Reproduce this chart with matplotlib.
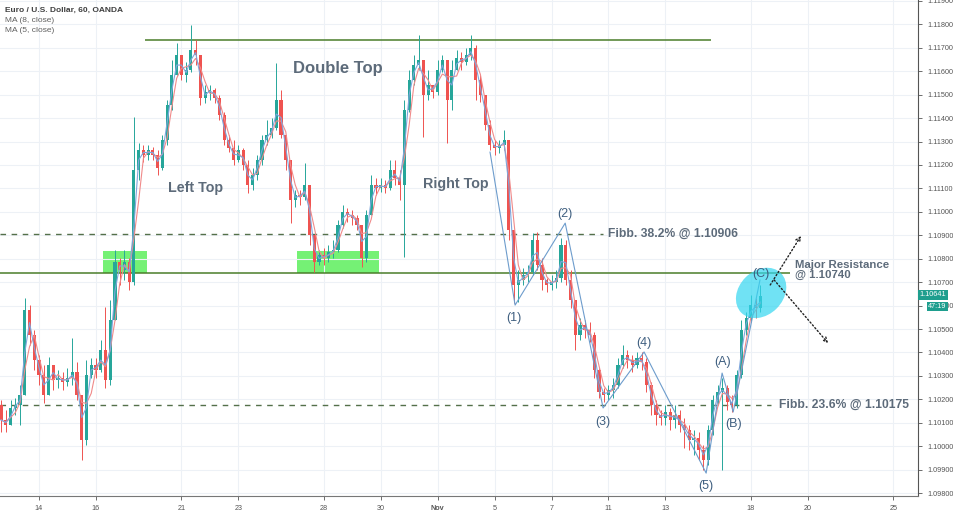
import numpy as np
import pandas as pd
import matplotlib
matplotlib.use("Agg")
import matplotlib.pyplot as plt
import matplotlib.patches as mpatches
import matplotlib.transforms as mtransforms

plt.rcParams["font.family"] = ["Liberation Sans", "DejaVu Sans"]

# EUR/USD, resampled to 4-hour bars (6 per trading day).
# first bar sits 8 bars before Mon 14 Oct 00:00
BARS_PER_DAY = 6
FIRST_BAR = -8
first_open = 1.10176
closes = [
    1.10112, 1.10090, 1.10163, 1.10176, 1.10218, 1.10581, 1.10474, 1.10368,
    1.10304, 1.10218, 1.10346, 1.10282, 1.10291, 1.10274,
    1.10291, 1.10316, 1.10218, 1.10026, 1.10304, 1.10346,
    1.10325, 1.10410, 1.10282, 1.10538, 1.10786, 1.10752,
    1.10786, 1.10701, 1.11179, 1.11264, 1.11243, 1.11264,
    1.11243, 1.11187, 1.11307, 1.11456, 1.11584, 1.11669,
    1.11584, 1.11605, 1.11691, 1.11669, 1.11486, 1.11512,
    1.11520, 1.11486, 1.11413, 1.11307, 1.11272, 1.11221,
    1.11264, 1.11200, 1.11115, 1.11157, 1.11221, 1.11307,
    1.11328, 1.11358, 1.11477, 1.11328, 1.11221, 1.11051,
    1.11072, 1.11063, 1.11115, 1.10901, 1.10786, 1.10816,
    1.10803, 1.10829, 1.10837, 1.10944, 1.10999, 1.10987,
    1.10974, 1.10944, 1.10803, 1.10987, 1.11115, 1.11102,
    1.11115, 1.11102, 1.11179, 1.11144, 1.11115, 1.11435,
    1.11563, 1.11627, 1.11648, 1.11499, 1.11541, 1.11512,
    1.11605, 1.11648, 1.11477, 1.11605, 1.11657, 1.11640,
    1.11669, 1.11699, 1.11563, 1.11499, 1.11371, 1.11285,
    1.11272, 1.11285, 1.11307, 1.10922, 1.10688, 1.10709,
    1.10730, 1.10743, 1.10880, 1.10773, 1.10709, 1.10688,
    1.10701, 1.10718, 1.10858, 1.10709, 1.10624, 1.10474,
    1.10517, 1.10496, 1.10474, 1.10325, 1.10231, 1.10218,
    1.10240, 1.10261, 1.10346, 1.10389, 1.10368, 1.10346,
    1.10376, 1.10359, 1.10261, 1.10176, 1.10133, 1.10120,
    1.10146, 1.10112, 1.10133, 1.10090, 1.10069, 1.10026,
    1.10035, 1.09984, 1.09941, 1.10069, 1.10197, 1.10231,
    1.10248, 1.10188, 1.10176, 1.10304, 1.10496, 1.10547,
    1.10602, 1.10590, 1.10641,
]
highs = [
    1.10197, 1.10154, 1.10197, 1.10205, 1.10261, 1.10632, 1.10602, 1.10496,
    1.10389, 1.10346, 1.10380, 1.10325, 1.10325, 1.10316,
    1.10334, 1.10462, 1.10359, 1.10218, 1.10368, 1.10376,
    1.10376, 1.10453, 1.10594, 1.10624, 1.10837, 1.10803,
    1.10837, 1.10803, 1.11405, 1.11294, 1.11285, 1.11285,
    1.11277, 1.11264, 1.11328, 1.11477, 1.11648, 1.11721,
    1.11648, 1.11640, 1.11797, 1.11733, 1.11669, 1.11541,
    1.11541, 1.11529, 1.11499, 1.11426, 1.11328, 1.11307,
    1.11285, 1.11272, 1.11221, 1.11187, 1.11243, 1.11328,
    1.11392, 1.11401, 1.11635, 1.11520, 1.11328, 1.11221,
    1.11093, 1.11093, 1.11208, 1.11115, 1.10901, 1.10837,
    1.10846, 1.10858, 1.10880, 1.10965, 1.11029, 1.11016,
    1.11008, 1.10987, 1.10944, 1.11008, 1.11157, 1.11144,
    1.11144, 1.11136, 1.11221, 1.11221, 1.11179, 1.11477,
    1.11605, 1.11669, 1.11755, 1.11648, 1.11605, 1.11541,
    1.11648, 1.11669, 1.11648, 1.11648, 1.11691, 1.11682,
    1.11699, 1.11755, 1.11712, 1.11584, 1.11499, 1.11392,
    1.11307, 1.11307, 1.11349, 1.11307, 1.10922, 1.10752,
    1.10760, 1.10773, 1.10910, 1.10914, 1.10803, 1.10718,
    1.10730, 1.10752, 1.10888, 1.10880, 1.10752, 1.10624,
    1.10547, 1.10538, 1.10530, 1.10487, 1.10334, 1.10248,
    1.10261, 1.10291, 1.10376, 1.10432, 1.10410, 1.10389,
    1.10402, 1.10402, 1.10376, 1.10274, 1.10197, 1.10154,
    1.10176, 1.10163, 1.10176, 1.10154, 1.10120, 1.10090,
    1.10069, 1.10060, 1.10005, 1.10090, 1.10218, 1.10261,
    1.10291, 1.10261, 1.10218, 1.10325, 1.10538, 1.10573,
    1.10645, 1.10632, 1.10688,
]
lows = [
    1.10060, 1.10060, 1.10090, 1.10133, 1.10090, 1.10240, 1.10432, 1.10325,
    1.10261, 1.10184, 1.10240, 1.10240, 1.10248, 1.10240,
    1.10257, 1.10261, 1.10197, 1.09941, 1.10005, 1.10291,
    1.10291, 1.10316, 1.10248, 1.10261, 1.10581, 1.10688,
    1.10709, 1.10666, 1.10688, 1.11136, 1.11213, 1.11221,
    1.11221, 1.11157, 1.11179, 1.11285, 1.11435, 1.11584,
    1.11563, 1.11554, 1.11597, 1.11627, 1.11456, 1.11465,
    1.11477, 1.11465, 1.11392, 1.11285, 1.11255, 1.11200,
    1.11213, 1.11179, 1.11080, 1.11093, 1.11136, 1.11200,
    1.11285, 1.11315, 1.11349, 1.11315, 1.11179, 1.10952,
    1.11021, 1.11029, 1.11051, 1.10858, 1.10743, 1.10773,
    1.10773, 1.10786, 1.10803, 1.10829, 1.10931, 1.10957,
    1.10944, 1.10922, 1.10765, 1.10786, 1.10987, 1.11072,
    1.11085, 1.11080, 1.11093, 1.11115, 1.11051, 1.10807,
    1.11426, 1.11541, 1.11605, 1.11319, 1.11477, 1.11486,
    1.11499, 1.11597, 1.11294, 1.11435, 1.11614, 1.11605,
    1.11627, 1.11648, 1.11477, 1.11469, 1.11349, 1.11264,
    1.11243, 1.11251, 1.11264, 1.10880, 1.10611, 1.10615,
    1.10688, 1.10701, 1.10730, 1.10752, 1.10666, 1.10658,
    1.10666, 1.10675, 1.10701, 1.10688, 1.10590, 1.10410,
    1.10453, 1.10462, 1.10445, 1.10291, 1.10205, 1.10188,
    1.10197, 1.10205, 1.10248, 1.10334, 1.10334, 1.10316,
    1.10334, 1.10325, 1.10231, 1.10133, 1.10090, 1.10090,
    1.10090, 1.10069, 1.10077, 1.10060, 1.09992, 1.09984,
    1.09962, 1.09941, 1.09898, 1.09920, 1.10048, 1.10176,
    1.09898, 1.10154, 1.10146, 1.10163, 1.10291, 1.10474,
    1.10530, 1.10547, 1.10573,
]

tick_dates = ["2019-10-14", "2019-10-16", "2019-10-21", "2019-10-23", "2019-10-28",
              "2019-10-30", "2019-11-01", "2019-11-05", "2019-11-07", "2019-11-11",
              "2019-11-13", "2019-11-18", "2019-11-20", "2019-11-25"]

# drawn levels
top_level = 1.11734
resistance = 1.10740
fib382 = 1.10906
fib236 = 1.10175
last_price = 1.10641

# Elliott wave sketch (trading-day index, price)
wave_days = [15.84, 16.72, 18.48, 19.81, 21.25, 23.43, 23.99, 24.38, 25.32]
wave_prices = [1.11255, 1.10602, 1.10952, 1.10163, 1.10402, 1.09885, 1.10312, 1.10146, 1.10709]
wave_labels = ["(1)", "(2)", "(3)", "(4)", "(5)", "(A)", "(B)", "(C)"]
label_days = [16.68, 18.48, 19.81, 21.25, 23.43, 23.99, 24.41, 25.36]
label_prices = [1.10547, 1.10991, 1.10103, 1.10440, 1.09830, 1.10359, 1.10094, 1.10735]

UP, DOWN = "#26a69a", "#ef5350"
LEVEL_GREEN = "#4a7d2a"
NOTE = "#5d6b7a"
WAVE = "#3f5f80"

c = np.array(closes)
o = np.r_[first_open, c[:-1]]
h = np.maximum(np.array(highs), np.maximum(o, c))
l = np.minimum(np.array(lows), np.minimum(o, c))
t = (np.arange(len(c)) + FIRST_BAR) / BARS_PER_DAY
col = np.where(c >= o, UP, DOWN)

fig = plt.figure(figsize=(9.54, 5.13), dpi=100)
ax = fig.add_axes([0, 17 / 513, 918 / 954, 496 / 513])
x0, x1 = -1.37, 30.87
ax.set_xlim(x0, x1)
ax.set_ylim(1.097873, 1.119042)

# grid + axes styling
days = pd.bdate_range("2019-10-14", "2019-11-29")
tick_pos = days.get_indexer(pd.to_datetime(tick_dates))
tick_lab = ["Nov" if d.endswith("11-01") else str(int(d[-2:])) for d in tick_dates]
ax.set_xticks(tick_pos)
ax.set_xticklabels(tick_lab)
for lab in ax.get_xticklabels():
    if lab.get_text() == "Nov":
        lab.set_fontweight("bold")
ax.set_yticks(np.arange(1.098, 1.1195, 0.001))
ax.yaxis.set_major_formatter(matplotlib.ticker.FormatStrFormatter("%.5f"))
ax.yaxis.tick_right()
ax.grid(color="#edf1f6", lw=0.8, zorder=0)
ax.tick_params(labelsize=5.2, colors="#555555", length=3, width=0.6)
for s in ("top", "left"):
    ax.spines[s].set_visible(False)
ax.spines["right"].set_color("#555555")
ax.spines["bottom"].set_color("#777777")

# support zones
for a, b in [(2.25, 3.79), (9.06, 11.94)]:
    ax.add_patch(mpatches.Rectangle((a, resistance), b - a, 0.00094,
                                    color="#66f066", alpha=0.9, lw=0, zorder=1))

# levels
ax.hlines(top_level, 3.72, 23.6, color=LEVEL_GREEN, lw=1.1, zorder=2)
ax.hlines(resistance, x0, 26.38, color=LEVEL_GREEN, lw=1.1, zorder=2)
ax.hlines(fib382, x0, 19.8, color="#54704a", lw=1, ls=(0, (4, 4)), zorder=2)
ax.hlines(fib236, x0, 25.7, color="#54704a", lw=1, ls=(0, (4, 4)), zorder=2)

# candles
ax.vlines(t, l, h, colors=col, lw=0.7, zorder=3)
body = np.maximum(np.abs(c - o), 0.00003)
ax.bar(t, body, bottom=np.minimum(o, c), width=0.11, color=col, lw=0, zorder=3)

# moving averages
ma8 = pd.Series(c).rolling(3, min_periods=1).mean()
ma5 = pd.Series(c).rolling(2, min_periods=1).mean()
ax.plot(t, ma8, color="#f08a8a", lw=0.8, zorder=4)
ax.plot(t, ma5, color="#7fa6dc", lw=0.8, zorder=4)

# wave count
ax.plot(wave_days, wave_prices, color="#6d9ccc", lw=0.8, zorder=5)
for lab, d, p in zip(wave_labels, label_days, label_prices):
    ax.text(d, p, lab, fontsize=9, color=WAVE, ha="center", va="center", zorder=7)

# highlight + projections
ell = mpatches.Ellipse((0, 0), 0.56, 0.44, angle=45, facecolor="#33d6f0", alpha=0.7, lw=0,
                       transform=fig.dpi_scale_trans
                       + mtransforms.ScaledTranslation(25.36, 1.10654, ax.transData),
                       zorder=6)
ax.add_patch(ell)
arrow = dict(arrowstyle="->", ls=":", lw=1, color="#222222", shrinkA=0, shrinkB=0,
             mutation_scale=8)
ax.annotate("", xy=(26.76, 1.10897), xytext=(25.68, 1.10688), arrowprops=arrow, zorder=7)
ax.annotate("", xy=(27.71, 1.10440), xytext=(25.82, 1.10709), arrowprops=arrow, zorder=7)

# notes
bold = dict(fontweight="bold", color=NOTE, zorder=8)
ax.text(10.5, 1.11610, "Double Top", fontsize=12, ha="center", va="center", **bold)
ax.text(5.51, 1.11102, "Left Top", fontsize=10.3, ha="center", va="center", **bold)
ax.text(14.65, 1.11119, "Right Top", fontsize=10.3, ha="center", va="center", **bold)
ax.text(19.99, fib382, "Fibb. 38.2% @ 1.10906", fontsize=8.7, ha="left", va="center", **bold)
ax.text(25.99, fib236 + 0.00003, "Fibb. 23.6% @ 1.10175", fontsize=8.7, ha="left", va="center", **bold)
ax.text(26.55, 1.10752, "Major Resistance\n@ 1.10740", fontsize=8.2, ha="left", va="center",
        linespacing=0.95, **bold)

# last price tag
bt = mtransforms.blended_transform_factory(ax.transAxes, ax.transData)
ax.text(1.002, last_price + 0.00005, "1.10641", transform=bt, fontsize=5.2, color="white",
        va="center", ha="left", clip_on=False,
        bbox=dict(boxstyle="square,pad=0.2", fc="#1e9e8e", ec="none"))
ax.text(1.011, last_price - 0.00045, "47:19", transform=bt, fontsize=5.2, color="white",
        va="center", ha="left", clip_on=False,
        bbox=dict(boxstyle="square,pad=0.2", fc="#1e9e8e", ec="none"))

# header
fig.text(5 / 954, 1 - 10 / 513, "Euro / U.S. Dollar, 60, OANDA", fontsize=6,
         fontweight="bold", color="#404040", va="center")
fig.text(5 / 954, 1 - 21 / 513, "MA (8, close)", fontsize=6, color="#606060", va="center")
fig.text(5 / 954, 1 - 31 / 513, "MA (5, close)", fontsize=6, color="#606060", va="center")

fig.savefig("out.png", dpi=100)
